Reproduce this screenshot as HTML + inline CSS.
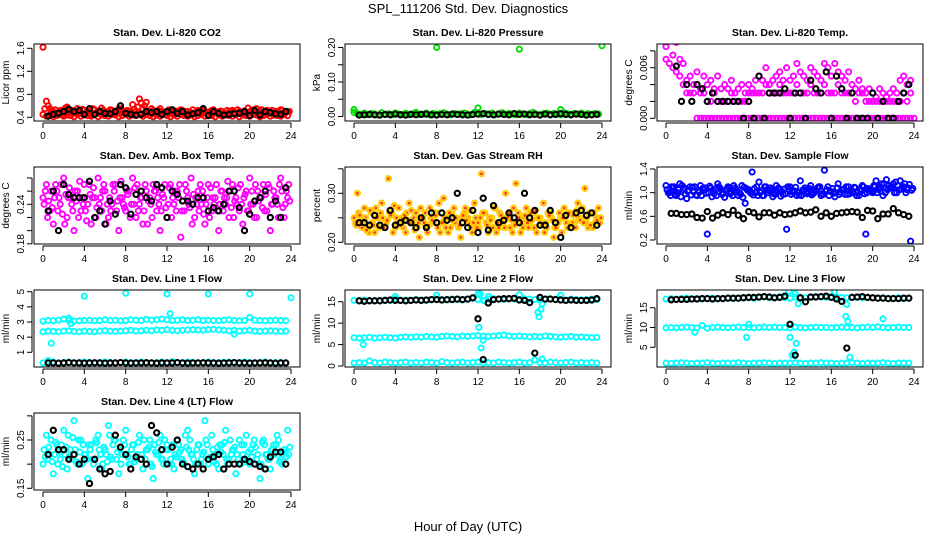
<!DOCTYPE html>
<html><head><meta charset="utf-8">
<style>
html,body{margin:0;padding:0;background:#fff;}
svg{display:block;font-family:"Liberation Sans",Arial,sans-serif;}
.ttl{font-weight:bold;font-size:10.5px;}
.tick{font-size:10px;}
</style></head>
<body>
<svg id="chart" width="936" height="540" viewBox="0 0 936 540" xmlns="http://www.w3.org/2000/svg">
<text x="468" y="13" text-anchor="middle" font-size="13">SPL_111206  Std. Dev. Diagnostics</text>
<text x="468" y="531" text-anchor="middle" font-size="13">Hour of Day (UTC)</text>
</svg>
<script>
// ---------------- data (hourly series start/step are time metadata) ----------------
const co2Red=[1.62,0.68,0.55,0.5,0.47,0.52,0.45,0.58,0.5,0.48,0.55,0.47,0.52,0.5,0.45,0.53,0.49,0.56,0.47,0.5,0.52,0.46,0.55,0.49,0.51,0.47,0.62,0.5,0.72,0.55,0.66,0.5,0.52,0.48,0.55,0.49,0.47,0.52,0.45,0.5,0.53,0.47,0.5,0.48,0.46,0.52,0.49,0.5,0.44,0.52,0.48,0.47,0.5,0.45,0.49,0.52,0.47,0.5,0.48,0.45,0.49,0.53,0.55,0.5,0.47,0.52,0.49,0.46,0.5,0.53,0.48,0.5];
const co2RedMid=[0.55,0.6,0.5,0.53,0.48,0.5,0.56,0.49,0.52,0.47,0.5,0.54,0.48,0.51,0.55,0.47,0.5,0.52,0.49,0.53,0.47,0.5,0.55,0.48,0.52,0.5,0.54,0.58,0.65,0.6,0.5,0.55,0.48,0.52,0.5,0.47,0.53,0.49,0.51,0.48,0.52,0.5,0.47,0.53,0.49,0.5,0.52,0.47,0.5,0.53,0.49,0.51,0.47,0.52,0.5,0.48,0.53,0.49,0.51,0.56,0.52,0.5,0.48,0.53,0.5,0.47,0.52,0.5,0.48,0.52,0.49,0.5];
const co2RedLow=[0.45,0.42,0.44,0.41,0.43,0.45,0.42,0.44,0.43,0.41,0.45,0.42,0.44,0.43,0.42,0.45,0.41,0.44,0.43,0.42,0.45,0.44,0.41,0.43,0.45,0.42,0.44,0.43,0.46,0.42,0.45,0.43,0.41,0.44,0.42,0.45,0.43,0.41,0.44,0.42,0.45,0.43,0.42,0.44,0.41,0.43,0.45,0.42,0.44,0.43,0.41,0.45,0.42,0.44,0.43,0.42,0.45,0.41,0.44,0.43,0.42,0.45,0.44,0.41,0.43,0.45,0.42,0.44,0.43,0.42,0.45,0.43];
const co2Black=[0.42,0.45,0.47,0.5,0.54,0.5,0.52,0.45,0.55,0.45,0.5,0.47,0.46,0.5,0.6,0.47,0.45,0.44,0.45,0.5,0.48,0.5,0.45,0.5,0.53,0.47,0.5,0.44,0.46,0.48,0.55,0.43,0.5,0.47,0.44,0.45,0.46,0.47,0.5,0.43,0.52,0.44,0.5,0.48,0.46,0.45,0.5];
const presGreen=[0.012,0.008,0.006,0.01,0.005,0.009,0.007,0.004,0.011,0.006,0.008,0.005,0.01,0.007,0.006,0.009,0.005,0.008,0.012,0.006,0.007,0.01,0.005,0.009,0.006,0.008,0.011,0.007,0.005,0.009,0.006,0.008,0.01,0.007,0.005,0.012,0.008,0.006,0.009,0.007,0.01,0.005,0.008,0.011,0.006,0.009,0.007,0.005,0.01,0.008,0.006,0.009,0.012,0.007,0.005,0.008,0.01,0.006,0.009,0.007,0.005,0.011,0.008,0.006,0.009,0.007,0.01,0.005,0.008,0.006,0.009,0.007];
const presOutHours=[0,8,12,16,20,24];
const presOutVals=[0.02,0.2,0.025,0.195,0.02,0.205];
const presBlack=[0.004,0.005,0.006,0.005,0.004,0.006,0.005,0.007,0.005,0.004,0.006,0.005,0.006,0.007,0.005,0.004,0.006,0.005,0.007,0.006,0.005,0.004,0.006,0.007,0.008,0.006,0.005,0.007,0.006,0.005,0.008,0.006,0.007,0.005,0.006,0.004,0.007,0.005,0.006,0.008,0.006,0.005,0.007,0.006,0.004,0.005,0.006];
const tempHi=[0.0085,0.0095,0.0075,0.009,0.007,0.0065,0.0045,0.005,0.004,0.0055,0.0035,0.005,0.004,0.0045,0.0035,0.005,0.0035,0.004,0.0035,0.0045,0.003,0.0035,0.004,0.003,0.004,0.0035,0.0045,0.005,0.0045,0.006,0.004,0.0045,0.005,0.0055,0.0045,0.006,0.0045,0.005,0.0065,0.0055,0.005,0.0045,0.006,0.0055,0.005,0.0045,0.0065,0.006,0.005,0.0065,0.0055,0.005,0.0045,0.0055,0.004,0.0035,0.0045,0.0035,0.003,0.0035,0.003,0.0025,0.0035,0.003,0.0025,0.003,0.0035,0.003,0.0045,0.005,0.004,0.0045];
const tempLevel=[0.007,0.0065,0.006,0.0055,0.005,0.004,0.003,0.003,0.003,0.004,0.003,0.003,0.002,0.002,0.003,0.002,0.002,0.002,0.002,0.003,0.002,0.002,0.002,0.002,0.003,0.003,0.003,0.003,0.003,0.004,0.003,0.003,0.003,0.004,0.003,0.003,0.003,0.003,0.004,0.003,0.003,0.003,0.004,0.003,0.003,0.003,0.004,0.003,0.003,0.003,0.004,0.003,0.003,0.003,0.003,0.002,0.003,0.003,0.002,0.002,0.002,0.002,0.002,0.002,0.002,0.002,0.002,0.002,0.002,0.003,0.002,0.003];
const tempZero=[0,0,0,0,0,0,0,0,0,0,0,0,0,0,0,0,0,0,0,0,0,0,0,0,0,0,0,0,0,0,0,0,0,0,0,0,0,0,0,0,0,0,0,0,0,0,0,0,0,0,0,0,0,0,0,0,0,0,0,0,0];
const tempBlack=[0.0095,0.0062,0.002,0.004,0.002,0.004,0.0035,0.002,0.003,0.002,0.002,0.002,0.002,0.002,0,0.002,0,0.005,0,0.003,0.003,0.003,0.0035,0,0.003,0.003,0,0.0045,0.0035,0.003,0.0055,0,0.005,0.0035,0,0.003,0,0,0,0.003,0,0.002,0,0,0.002,0.003,0.004];
const ambA=[0.25,0.27,0.23,0.21,0.26,0.24,0.28,0.22,0.25,0.2,0.26,0.23,0.27,0.24,0.21,0.25,0.28,0.23,0.26,0.22,0.24,0.27,0.2,0.25,0.23,0.26,0.28,0.22,0.24,0.21,0.26,0.25,0.27,0.23,0.2,0.25,0.22,0.27,0.24,0.26,0.19,0.23,0.25,0.28,0.22,0.26,0.24,0.21,0.27,0.23,0.25,0.2,0.26,0.24,0.22,0.27,0.25,0.23,0.21,0.26,0.28,0.24,0.22,0.25,0.27,0.23,0.2,0.26,0.24,0.28,0.22,0.25];
const ambB=[0.24,0.22,0.26,0.25,0.23,0.27,0.21,0.25,0.24,0.26,0.22,0.25,0.23,0.27,0.25,0.22,0.24,0.26,0.21,0.25,0.27,0.23,0.25,0.24,0.26,0.22,0.24,0.27,0.25,0.23,0.21,0.24,0.26,0.25,0.23,0.27,0.24,0.22,0.26,0.25,0.23,0.27,0.24,0.21,0.25,0.23,0.26,0.24,0.22,0.25,0.27,0.24,0.23,0.25,0.26,0.22,0.24,0.27,0.25,0.23,0.24,0.22,0.26,0.25,0.23,0.27,0.24,0.25,0.22,0.26,0.24,0.27];
const ambC=[0.26,0.245,0.235,0.27,0.25,0.225,0.255,0.265,0.23,0.245,0.275,0.24,0.215,0.255,0.265,0.235,0.25,0.27,0.24,0.23,0.26,0.245,0.275,0.235,0.255,0.24,0.265,0.23,0.25,0.27,0.245,0.22,0.26,0.24,0.255,0.235,0.265,0.25,0.23,0.27,0.245,0.26,0.235,0.255,0.24,0.27,0.225,0.25,0.265,0.24,0.23,0.26,0.25,0.275,0.235,0.245,0.265,0.24,0.255,0.23,0.26,0.27,0.245,0.235,0.255,0.265,0.24,0.25,0.27,0.235,0.26,0.245];
const ambBlack=[0.23,0.26,0.2,0.27,0.255,0.25,0.25,0.25,0.275,0.22,0.23,0.21,0.245,0.225,0.27,0.265,0.225,0.255,0.26,0.25,0.245,0.27,0.265,0.22,0.26,0.255,0.245,0.245,0.24,0.25,0.25,0.23,0.235,0.23,0.24,0.26,0.26,0.235,0.2,0.225,0.245,0.25,0.26,0.22,0.245,0.22,0.265];
const rhA=[0.25,0.3,0.24,0.27,0.23,0.26,0.22,0.25,0.28,0.24,0.33,0.26,0.23,0.27,0.25,0.22,0.28,0.24,0.26,0.21,0.25,0.23,0.27,0.24,0.26,0.22,0.29,0.25,0.23,0.27,0.24,0.21,0.26,0.25,0.23,0.28,0.24,0.34,0.26,0.22,0.25,0.27,0.23,0.24,0.3,0.26,0.22,0.32,0.25,0.23,0.27,0.24,0.26,0.22,0.25,0.28,0.23,0.26,0.21,0.36,0.25,0.27,0.23,0.26,0.24,0.28,0.25,0.31,0.23,0.26,0.24,0.27];
const rhB=[0.24,0.26,0.23,0.25,0.22,0.24,0.27,0.23,0.25,0.24,0.26,0.22,0.25,0.24,0.23,0.26,0.24,0.25,0.23,0.27,0.24,0.22,0.25,0.26,0.23,0.24,0.25,0.22,0.26,0.24,0.23,0.25,0.27,0.24,0.22,0.25,0.23,0.26,0.24,0.25,0.23,0.22,0.26,0.24,0.25,0.23,0.27,0.24,0.22,0.25,0.24,0.26,0.23,0.25,0.24,0.22,0.26,0.25,0.23,0.24,0.22,0.25,0.26,0.24,0.23,0.25,0.27,0.24,0.26,0.23,0.25,0.24];
const rhC=[0.235,0.255,0.245,0.225,0.265,0.235,0.25,0.26,0.23,0.245,0.255,0.275,0.24,0.235,0.255,0.245,0.265,0.225,0.24,0.25,0.26,0.235,0.245,0.255,0.28,0.24,0.23,0.26,0.245,0.25,0.235,0.255,0.245,0.265,0.24,0.23,0.25,0.26,0.235,0.245,0.27,0.24,0.255,0.23,0.25,0.245,0.235,0.26,0.24,0.255,0.23,0.245,0.265,0.25,0.235,0.24,0.255,0.245,0.23,0.26,0.25,0.24,0.235,0.255,0.265,0.245,0.24,0.25,0.235,0.26,0.245,0.25];
const rhBlack=[0.24,0.24,0.235,0.255,0.235,0.23,0.265,0.235,0.24,0.245,0.24,0.23,0.25,0.23,0.26,0.24,0.26,0.245,0.25,0.3,0.24,0.23,0.265,0.22,0.29,0.225,0.275,0.24,0.245,0.26,0.25,0.24,0.3,0.25,0.265,0.235,0.235,0.265,0.24,0.21,0.255,0.23,0.26,0.265,0.255,0.26,0.235];
const sfA=[1.12,1.0,1.08,0.95,1.15,1.05,0.9,1.1,1.02,0.95,1.12,1.05,0.3,1.08,0.98,1.15,1.05,0.92,1.1,1.0,1.08,0.95,1.12,0.82,1.05,1.35,1.0,1.18,0.95,1.1,1.03,0.93,1.12,1.05,0.97,0.38,1.1,1.02,0.95,1.2,1.05,0.98,1.12,1.0,1.08,0.95,1.38,1.1,1.02,0.93,1.15,1.05,0.97,1.1,1.0,1.08,0.95,1.12,0.3,1.05,1.0,1.2,1.1,0.95,1.22,1.08,1.15,1.0,1.2,1.1,1.05,0.18];
const sfB=[1.05,0.95,1.1,1.0,0.93,1.08,1.02,0.96,1.1,1.04,0.95,1.08,1.0,0.93,1.06,1.1,0.97,1.03,1.08,0.95,1.05,1.0,0.92,1.07,1.02,0.96,1.1,1.0,0.95,1.05,1.08,0.98,1.02,0.94,1.06,1.1,0.97,1.03,1.0,0.95,1.08,1.02,0.96,1.05,1.1,0.98,1.03,0.95,1.07,1.0,0.97,1.05,1.1,0.98,1.02,0.95,1.06,1.1,1.0,1.04,1.12,1.0,1.08,1.15,1.05,1.1,1.0,1.12,1.06,1.15,1.08,1.04];
const sfC=[1.0,1.1,0.97,1.05,1.12,0.98,1.04,1.09,0.96,1.01,1.07,0.99,1.11,1.03,0.95,1.08,1.0,1.06,0.98,1.12,1.02,0.97,1.09,1.04,0.99,1.07,0.95,1.03,1.1,1.0,1.05,0.97,1.08,1.02,0.98,1.06,1.01,1.09,0.96,1.04,1.0,1.07,0.98,1.03,1.1,0.97,1.05,1.02,0.99,1.08,1.01,1.06,0.97,1.04,1.09,1.0,1.03,0.98,1.07,1.02,1.1,1.05,1.15,1.0,1.12,1.08,1.18,1.05,1.1,1.0,1.14,1.07];
const sfBlack=[0.65,0.65,0.63,0.63,0.64,0.58,0.57,0.68,0.57,0.62,0.66,0.63,0.7,0.62,0.56,0.68,0.66,0.59,0.66,0.66,0.62,0.66,0.63,0.64,0.66,0.69,0.66,0.67,0.71,0.6,0.66,0.6,0.65,0.66,0.67,0.68,0.67,0.58,0.7,0.69,0.56,0.64,0.64,0.73,0.66,0.63,0.6];
const l1Top=[3.05,3.1,3.08,3.12,3.2,3.1,3.05,3.08,3.1,3.12,3.08,3.1,3.15,3.1,3.12,3.08,3.1,3.15,3.12,3.1,3.18,3.12,3.15,3.2,3.15,3.1,3.12,3.15,3.1,3.12,3.15,3.1,3.12,3.1,3.08,3.12,3.15,3.1,3.08,3.1,3.3,3.12,3.1,3.08,3.1,3.12,3.1,3.08];
const l1Mid=[2.35,2.4,2.38,2.35,2.4,2.42,2.38,2.35,2.4,2.38,2.35,2.4,2.42,2.4,2.38,2.4,2.42,2.45,2.4,2.42,2.45,2.42,2.48,2.45,2.5,2.45,2.42,2.45,2.48,2.5,2.48,2.45,2.5,2.52,2.48,2.45,2.42,2.45,2.4,2.42,2.45,2.4,2.38,2.4,2.42,2.4,2.38,2.4];
const l1Low=[0.3,0.45,0.35,0.3,0.32,0.35,0.3,0.32,0.35,0.33,0.3,0.32,0.35,0.32,0.3,0.33,0.35,0.32,0.3,0.35,0.33,0.3,0.32,0.35,0.3,0.38,0.32,0.3,0.35,0.33,0.3,0.32,0.35,0.3,0.33,0.32,0.35,0.3,0.32,0.35,0.33,0.3,0.32,0.35,0.3,0.33,0.32,0.3];
const l1OutHours=[4,8,12,16,20,24,0.8,12.3,2.5,18.5,2.7];
const l1OutVals=[4.7,4.9,4.85,4.85,4.85,4.6,1.6,3.55,3.25,2.2,2.9];
const l1Black=[0.3,0.3,0.28,0.3,0.32,0.3,0.3,0.29,0.3,0.31,0.3,0.28,0.3,0.3,0.32,0.3,0.29,0.3,0.3,0.31,0.3,0.28,0.3,0.3,0.3,0.32,0.3,0.29,0.3,0.3,0.31,0.3,0.3,0.28,0.3,0.3,0.32,0.3,0.3,0.29,0.3,0.3,0.31,0.3,0.28,0.3,0.3];
const l2Top=[15.3,15.2,15.4,15.3,15.2,15.3,15.4,15.3,15.6,15.3,15.4,15.3,15.5,15.4,15.3,15.5,15.6,15.5,15.4,15.6,15.5,15.4,15.6,15.8,15.5,15.3,15.6,15.7,15.6,15.5,15.7,15.6,15.5,15.7,15.6,15.5,15.4,15.6,15.7,15.6,15.5,15.4,15.6,15.5,15.4,15.5,15.6,15.5];
const l2Mid=[6.6,6.5,6.6,6.7,6.5,6.6,6.7,6.6,6.5,6.7,6.8,6.7,6.8,6.7,6.9,6.8,6.7,6.9,7.0,6.9,6.8,7.0,6.9,7.0,7.1,7.0,6.9,7.0,7.1,7.2,7.0,6.9,7.0,6.9,6.8,6.9,6.8,7.0,6.9,6.8,6.7,6.8,6.9,6.7,6.8,6.7,6.6,6.7];
const l2Low=[0.7,0.8,0.7,1.2,0.8,0.7,0.9,0.8,0.7,0.8,0.9,0.7,0.8,0.7,0.9,0.8,0.7,1.0,0.8,0.7,0.8,0.9,0.7,0.8,0.9,0.7,0.8,0.7,0.9,0.8,0.7,0.8,0.9,0.7,0.8,1.4,0.8,0.7,0.9,0.8,0.7,0.8,0.9,0.7,0.8,0.7,0.8,0.7];
const l2OutHours=[0.9,12.1,12.3,12.5,12.2,12.6,17.8,17.9,18.1,18.2,8,4,12,16,20,18.2,13];
const l2OutVals=[5,9,4.2,6,16.8,15.2,12.5,11.5,13.2,14.5,16.5,16.2,16.8,16.6,16.5,1.6,16.2];
const l2Black=[15.2,15.1,15.2,15.2,15.2,15.3,15.4,15.3,15.3,15.2,15.3,15.4,15.3,15.4,15.5,15.5,15.4,15.5,15.5,15.6,15.5,15.6,15.9,11.0,1.5,14.7,15.5,15.6,15.7,15.7,15.8,15.4,15.3,14.8,3.0,16.0,15.6,15.6,15.5,15.4,15.3,15.4,15.3,15.3,15.3,15.4,15.7];
const l3Top=[17.2,17.3,17.1,17.3,17.4,17.2,17.3,17.2,17.3,17.4,17.2,17.3,17.5,17.3,17.4,17.6,17.5,17.4,17.6,17.7,17.5,17.6,17.8,17.5,17.4,17.7,17.6,17.5,17.6,17.8,17.7,17.6,17.8,17.7,17.6,17.5,17.7,17.6,17.5,17.6,17.5,17.4,17.5,17.3,17.4,17.5,17.3,17.4];
const l3Mid=[9.9,10,9.9,10,10.1,10,9.9,10.5,9.8,10,10.1,10,9.9,10,10.1,10,10,9.9,10,10.1,10,10.1,10,10,9.9,10.1,10,9.9,10,10.1,10,10,9.9,10,10.1,10,10,9.9,10,10.1,10,10.2,10,9.9,10,10.1,10,10];
const l3Low=[1,0.9,1,1.1,1,0.9,1,1,1.1,1,0.9,1,1,1,1.1,1,0.9,1,1,1.1,1,0.9,1,1,1,1.1,1,0.9,1,1,1.1,1,1,0.9,1,1,1.1,1,0.9,1,1,1,1.1,1,0.9,1,1,1];
const l3OutHours=[7.8,8,12,12.2,12.4,12.6,12.8,17.4,17.6,17.8,21,2.8,12.5,16.3,11.9,17.5];
const l3OutVals=[7.5,10.8,7.5,3,3.8,6,16,12.8,11.5,2.5,12.2,8.8,18.5,19,19.2,15.8];
const l3Black=[17.0,17.1,17.1,17.1,17.2,17.2,17.3,17.3,17.2,17.3,17.3,17.4,17.4,17.4,17.5,17.6,17.6,17.7,17.8,17.7,17.5,17.6,17.9,10.8,3.0,17.5,16.5,17.7,17.7,17.8,17.9,17.6,17.2,16.6,4.8,17.6,17.7,17.8,17.6,17.5,17.4,17.4,17.3,17.3,17.3,17.4,17.4];
const l4A=[0.2,0.26,0.22,0.18,0.24,0.21,0.27,0.19,0.23,0.29,0.2,0.25,0.22,0.17,0.24,0.21,0.26,0.19,0.23,0.28,0.21,0.25,0.18,0.22,0.27,0.2,0.24,0.21,0.26,0.19,0.23,0.25,0.17,0.22,0.26,0.2,0.24,0.21,0.19,0.25,0.23,0.2,0.27,0.22,0.18,0.24,0.21,0.29,0.2,0.26,0.22,0.19,0.24,0.27,0.21,0.23,0.18,0.25,0.22,0.26,0.2,0.24,0.21,0.17,0.25,0.22,0.19,0.24,0.26,0.21,0.23,0.27];
const l4B=[0.23,0.21,0.25,0.22,0.2,0.24,0.22,0.26,0.21,0.23,0.25,0.2,0.22,0.24,0.21,0.25,0.23,0.2,0.22,0.26,0.24,0.21,0.23,0.25,0.22,0.2,0.24,0.22,0.21,0.25,0.23,0.2,0.24,0.22,0.21,0.25,0.23,0.2,0.22,0.24,0.21,0.26,0.23,0.22,0.2,0.24,0.22,0.25,0.21,0.23,0.2,0.24,0.22,0.21,0.25,0.23,0.22,0.2,0.24,0.21,0.23,0.25,0.22,0.2,0.24,0.21,0.23,0.22,0.25,0.2,0.23,0.22];
const l4C=[0.215,0.235,0.205,0.245,0.225,0.195,0.235,0.215,0.255,0.205,0.225,0.24,0.21,0.23,0.2,0.245,0.22,0.235,0.205,0.215,0.25,0.225,0.2,0.24,0.215,0.23,0.205,0.245,0.22,0.21,0.235,0.195,0.225,0.245,0.21,0.23,0.2,0.24,0.215,0.225,0.205,0.235,0.25,0.21,0.23,0.2,0.225,0.24,0.215,0.205,0.235,0.225,0.245,0.2,0.22,0.235,0.21,0.24,0.205,0.225,0.215,0.235,0.2,0.245,0.22,0.21,0.23,0.24,0.205,0.225,0.215,0.235];
const l4Black=[0.22,0.27,0.23,0.23,0.21,0.22,0.2,0.21,0.16,0.21,0.19,0.18,0.185,0.26,0.235,0.22,0.19,0.215,0.21,0.2,0.28,0.265,0.23,0.2,0.235,0.25,0.2,0.195,0.19,0.2,0.19,0.21,0.215,0.22,0.19,0.2,0.2,0.2,0.21,0.205,0.2,0.195,0.19,0.215,0.225,0.225,0.2];
const xTickLabels=[0,4,8,12,16,20,24];

// ---------------- rendering ----------------
const NS='http://www.w3.org/2000/svg';
const svg=document.getElementById('chart');
const colLeft=[34,345,657], rowTop=[44,167,290,413], boxW=266, boxH=77;
function mk(tag,attrs,parent){const e=document.createElementNS(NS,tag);for(const k in attrs)e.setAttribute(k,attrs[k]);(parent||svg).appendChild(e);return e;}

function drawPanel(p){
  const L=colLeft[p.col], T=rowTop[p.row], B=T+boxH;
  const g=mk('g',{});
  
  
  const xs=h=>L+9+h*(248/24);
  const ys=v=>p.pa+(v-p.va)*(p.pb-p.pa)/(p.vb-p.va);
  const t=mk('text',{x:L+boxW/2,y:T-8,'text-anchor':'middle','class':'ttl'},g);t.textContent=p.title;
  
  
  const clip=mk('clipPath',{id:'c'+p.id},g);mk('rect',{x:L,y:T,width:boxW,height:boxH},clip);
  const pts=mk('g',{'clip-path':'url(#c'+p.id+')'},g);
  p.series.forEach(s=>{
    const n=s.vals.length;
    for(let i=0;i<n;i++){
      const h=s.hours?s.hours[i]:s.h0+i*s.dh;
      const c=mk('circle',{cx:xs(h).toFixed(1),cy:ys(s.vals[i]).toFixed(1),r:2.6,fill:'none',stroke:s.color,'stroke-width':s.sw||1.9},pts);
      
      
      if(s.dot){const d=mk('circle',{cx:xs(h).toFixed(1),cy:ys(s.vals[i]).toFixed(1),r:1.4,fill:s.dot},pts);
        
        }
    }
  });
  const box=mk('rect',{x:L,y:T,width:boxW,height:boxH,fill:'none',stroke:'#000','stroke-width':1},g);
  
  
  const xa=mk('g',{},g);
  
  
  mk('line',{x1:xs(0),x2:xs(24),y1:B+2,y2:B+2,stroke:'#000'},xa);
  xTickLabels.forEach(h=>{
    mk('line',{x1:xs(h),x2:xs(h),y1:B+2,y2:B+7,stroke:'#000'},xa);
    const tl=mk('text',{x:xs(h),y:B+18,'text-anchor':'middle','class':'tick'},xa);tl.textContent=h;
  });
  const ya=mk('g',{},g);
  
  
  const tk=p.ticks;
  mk('line',{x1:L-2,x2:L-2,y1:ys(tk[0]),y2:ys(tk[tk.length-1]),stroke:'#000'},ya);
  tk.forEach(v=>{
    const y=ys(v);
    mk('line',{x1:L-2,x2:L-7,y1:y,y2:y,stroke:'#000'},ya);
    if(p.labels.indexOf(v)>=0){
      const tl=mk('text',{x:0,y:0,'text-anchor':'middle','class':'tick',transform:'translate('+(L-10)+','+y+') rotate(-90)'},ya);
      tl.textContent=v.toFixed(p.dec);
    }
  });
  const yl=mk('text',{x:0,y:0,'text-anchor':'middle','font-size':'10',transform:'translate('+(L-25)+','+(T+boxH/2)+') rotate(-90)'},g);
  yl.textContent=p.ylab;
  
  
}
const S=(vals,color,name,extra)=>Object.assign({vals,color,name,h0:0,dh:24/vals.length},extra||{});
const K=(vals,name)=>({vals,color:'#000',name,h0:0.5,dh:0.5,sw:2.1});
const O=(hours,vals,color,name)=>({hours,vals,color,name});
const panels=[
 {id:'co2',col:0,row:0,title:'Stan. Dev. Li-820 CO2',ylab:'Licor ppm',va:0.4,pa:117.3,vb:1.6,pb:48.3,ticks:[0.4,0.8,1.2,1.6],labels:[0.4,0.8,1.2,1.6],dec:1,
  series:[S(co2RedLow,'#ff0000','red-low'),S(co2RedMid,'#ff0000','red-mid',{h0:0.17}),S(co2Red,'#ff0000','red'),K(co2Black,'hourly')]},
 {id:'pressure',col:1,row:0,title:'Stan. Dev. Li-820 Pressure',ylab:'kPa',va:0,pa:116.5,vb:0.2,pb:47.5,ticks:[0,0.05,0.1,0.15,0.2],labels:[0,0.1,0.2],dec:2,
  series:[S(presGreen,'#00dd00','green'),O(presOutHours,presOutVals,'#00dd00','green-outlier'),K(presBlack,'hourly')]},
 {id:'temp',col:2,row:0,title:'Stan. Dev. Li-820 Temp.',ylab:'degrees C',va:0,pa:118.3,vb:0.006,pb:67.7,ticks:[0,0.002,0.004,0.006,0.008],labels:[0,0.003,0.006],dec:3,
  series:[S(tempZero,'#ff00ff','zero',{h0:3,dh:0.35}),S(tempLevel,'#ff00ff','level'),S(tempHi,'#ff00ff','high'),K(tempBlack,'hourly')]},
 {id:'ambtemp',col:0,row:1,title:'Stan. Dev. Amb. Box Temp.',ylab:'degrees C',va:0.24,pa:204.3,vb:0.18,pb:243.8,ticks:[0.18,0.2,0.22,0.24,0.26,0.28],labels:[0.18,0.24],dec:2,
  series:[S(ambA,'#ff00ff','a'),S(ambB,'#ff00ff','b',{h0:0.11}),S(ambC,'#ff00ff','c',{h0:0.22}),K(ambBlack,'hourly')]},
 {id:'rh',col:1,row:1,title:'Stan. Dev. Gas Stream RH',ylab:'percent',va:0.3,pa:193.3,vb:0.2,pb:242.3,ticks:[0.2,0.25,0.3,0.35],labels:[0.2,0.3],dec:2,
  series:[S(rhA,'#ffcc00','a',{dot:'#ff3300'}),S(rhB,'#ffcc00','b',{h0:0.11,dot:'#ff3300'}),S(rhC,'#ffcc00','c',{h0:0.22,dot:'#ff3300'}),K(rhBlack,'hourly')]},
 {id:'sampleflow',col:2,row:1,title:'Stan. Dev. Sample Flow',ylab:'ml/min',va:1.4,pa:169,vb:0.2,pb:240,ticks:[0.2,0.6,1.0,1.4],labels:[0.2,0.6,1.0,1.4],dec:1,
  series:[S(sfB,'#0000ff','b',{h0:0.11}),S(sfC,'#0000ff','c',{h0:0.22}),S(sfA,'#0000ff','a'),K(sfBlack,'hourly')]},
 {id:'line1',col:0,row:2,title:'Stan. Dev. Line 1 Flow',ylab:'ml/min',va:5,pa:291.7,vb:1,pb:352.3,ticks:[1,2,3,4,5],labels:[1,2,3,4,5],dec:0,
  series:[S(l1Top,'#00ffff','top'),S(l1Mid,'#00ffff','mid'),S(l1Low,'#00ffff','low'),O(l1OutHours,l1OutVals,'#00ffff','outlier'),K(l1Black,'hourly')]},
 {id:'line2',col:1,row:2,title:'Stan. Dev. Line 2 Flow',ylab:'ml/min',va:0,pa:366,vb:15,pb:301.7,ticks:[0,5,10,15],labels:[0,5,10,15],dec:0,
  series:[S(l2Top,'#00ffff','top'),S(l2Mid,'#00ffff','mid'),S(l2Low,'#00ffff','low'),O(l2OutHours,l2OutVals,'#00ffff','outlier'),K(l2Black,'hourly')]},
 {id:'line3',col:2,row:2,title:'Stan. Dev. Line 3 Flow',ylab:'ml/min',va:15,pa:307.7,vb:5,pb:347.3,ticks:[5,10,15],labels:[5,10,15],dec:0,
  series:[S(l3Top,'#00ffff','top'),S(l3Mid,'#00ffff','mid'),S(l3Low,'#00ffff','low'),O(l3OutHours,l3OutVals,'#00ffff','outlier'),K(l3Black,'hourly')]},
 {id:'line4',col:0,row:3,title:'Stan. Dev. Line 4 (LT) Flow',ylab:'ml/min',va:0.25,pa:440,vb:0.15,pb:488.3,ticks:[0.15,0.2,0.25,0.3],labels:[0.15,0.25],dec:2,
  series:[S(l4A,'#00ffff','a'),S(l4B,'#00ffff','b',{h0:0.11}),S(l4C,'#00ffff','c',{h0:0.22}),K(l4Black,'hourly')]}
];
panels.forEach(drawPanel);
</script>
</body></html>
